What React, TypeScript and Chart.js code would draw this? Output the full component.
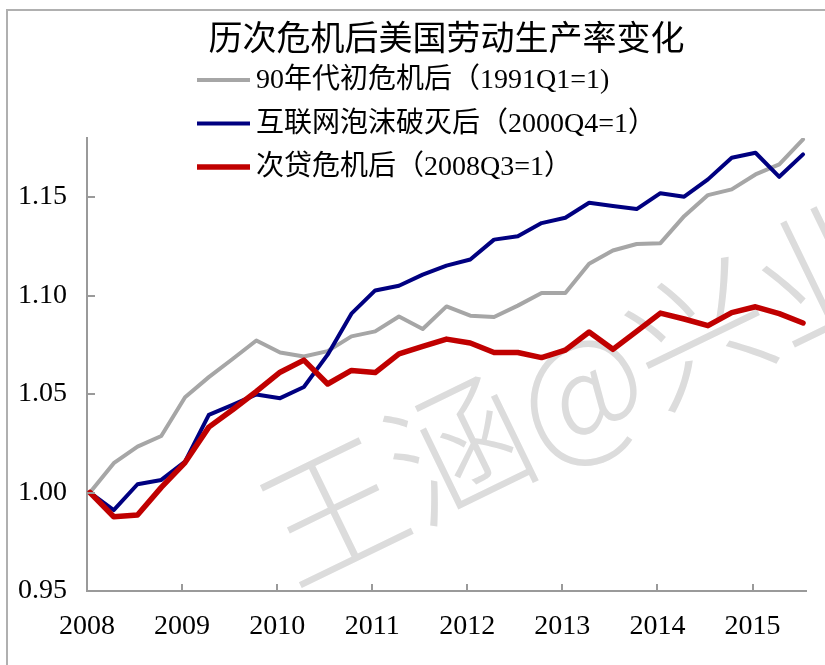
import { useEffect, useRef } from 'react';
import { Chart, registerables } from 'chart.js';

Chart.register(...registerables);

const titleText = '历次危机后美国劳动生产率变化';
const yearLabels = ['2008', '2009', '2010', '2011', '2012', '2013', '2014', '2015'];
const seriesNames = ['90年代初危机后（1991Q1=1)', '互联网泡沫破灭后（2000Q4=1）', '次贷危机后（2008Q3=1）'];
const seriesColors = ['#A6A6A6', '#000080', '#C00000'];
const seriesWidths = [4, 4, 5.5];
const watermarkText = '王涵@兴业宏观';

const series1991 = [
  1.0, 1.0149, 1.0233, 1.0287, 1.0484, 1.0586, 1.0678, 1.0772, 1.0711, 1.0691,
  1.0718, 1.0793, 1.0818, 1.0894, 1.083, 1.0945, 1.0898, 1.0891, 1.0949, 1.1013,
  1.1013, 1.1162, 1.1229, 1.1262, 1.1266, 1.1403, 1.151, 1.1539, 1.1615, 1.1666,
  1.1793,
];
const series2000 = [
  1.0, 0.9911, 1.0042, 1.0064, 1.0157, 1.0394, 1.0445, 1.0498, 1.0479, 1.0536,
  1.07, 1.0908, 1.1026, 1.105, 1.1106, 1.1152, 1.1183, 1.1284, 1.1301, 1.1368,
  1.1395, 1.1471, 1.1455, 1.1439, 1.152, 1.1502, 1.159, 1.17, 1.1725, 1.1603,
  1.1717,
];
const series2008 = [
  1.0, 0.9877, 0.9886, 1.0026, 1.0152, 1.0332, 1.042, 1.0513, 1.0611, 1.0672,
  1.0551, 1.062, 1.0609, 1.0704, 1.0742, 1.0779, 1.0759, 1.0711, 1.0711, 1.0685,
  1.0723, 1.0815, 1.0727, 1.0818, 1.0911, 1.0881, 1.0847, 1.0913, 1.0943, 1.0908,
  1.0861,
];
const allSeries = [series1991, series2000, series2008];

const Y_MIN = 0.95;
const Y_MAX = 1.18;
const Y_STEP = 0.05;

const SERIF = '"Liberation Serif", "Times New Roman", "Noto Sans CJK SC", serif';
const AXIS_COLOR = '#9A9A9A';

const decorPlugin = {
  id: 'decor',
  beforeDatasetsDraw(chart: any) {
    const ctx = chart.ctx;
    ctx.save();
    ctx.translate(293, 588);
    ctx.rotate((-25.9 * Math.PI) / 180);
    ctx.fillStyle = '#DCDCDC';
    ctx.font = '300 140px "Noto Sans CJK SC", sans-serif';
    ctx.textBaseline = 'alphabetic';
    ctx.textAlign = 'left';
    ctx.fillText(watermarkText, 0, 0);
    ctx.restore();
  },
  afterDraw(chart: any) {
    const ctx = chart.ctx;
    const xs = chart.scales.x;
    const ys = chart.scales.y;
    const area = chart.chartArea;
    ctx.save();
    // inward tick marks
    ctx.strokeStyle = AXIS_COLOR;
    ctx.lineWidth = 2;
    ctx.beginPath();
    ys.ticks.forEach((t: any) => {
      const y = Math.round(ys.getPixelForValue(t.value));
      ctx.moveTo(area.left, y);
      ctx.lineTo(area.left + 8, y);
    });
    xs.ticks.forEach((t: any) => {
      const x = Math.round(xs.getPixelForValue(t.value));
      ctx.moveTo(x, area.bottom);
      ctx.lineTo(x, area.bottom - 7);
    });
    ctx.stroke();

    // legend
    ctx.font = '28px ' + SERIF;
    ctx.textBaseline = 'middle';
    ctx.textAlign = 'left';
    chart.data.datasets.forEach((ds: any, i: number) => {
      const y = 80 + i * 43.5;
      ctx.strokeStyle = ds.borderColor;
      ctx.lineWidth = ds.borderWidth;
      ctx.lineCap = 'butt';
      ctx.beginPath();
      ctx.moveTo(197, y);
      ctx.lineTo(250, y);
      ctx.stroke();
      ctx.fillStyle = '#000';
      ctx.fillText(ds.label, 256, y + 1);
    });

    // outer frame
    ctx.strokeStyle = '#B0B0B0';
    ctx.lineWidth = 2;
    ctx.beginPath();
    ctx.moveTo(7, 665);
    ctx.lineTo(7, 10);
    ctx.lineTo(825, 10);
    ctx.stroke();
    ctx.restore();
  },
};

export default function App() {
  const ref = useRef<HTMLCanvasElement>(null);

  useEffect(() => {
    if (!ref.current) return;
    const datasets = allSeries.map((vals, i) => ({
      label: seriesNames[i],
      data: vals.map((v, k) => ({ x: k, y: v })),
      borderColor: seriesColors[i],
      backgroundColor: seriesColors[i],
      borderWidth: seriesWidths[i],
      pointRadius: 0,
      tension: 0,
      fill: false,
      borderJoinStyle: 'round' as const,
      borderCapStyle: 'round' as const,
      order: 3 - i,
    }));

    const chart = new Chart(ref.current, {
      type: 'line',
      data: { datasets },
      options: {
        animation: false,
        responsive: false,
        devicePixelRatio: 1,
        layout: { padding: { left: 0, right: 19, top: 0, bottom: 0 } },
        plugins: {
          legend: { display: false },
          tooltip: { enabled: false },
          title: {
            display: true,
            text: titleText,
            fullSize: false,
            color: '#000',
            font: { family: '"Noto Sans CJK SC", sans-serif', size: 34, weight: 'normal' },
            padding: { top: 17, bottom: 80.2 },
          },
        },
        scales: {
          x: {
            type: 'linear',
            min: -0.125,
            max: 30.125,
            afterBuildTicks: (s: any) => {
              s.ticks = yearLabels.map((_, k) => ({ value: 4 * k - 0.125 }));
            },
            afterFit: (s: any) => {
              s.height = 74;
            },
            grid: { display: false, drawTicks: false },
            border: { display: true, color: AXIS_COLOR, width: 2 },
            ticks: {
              autoSkip: false,
              maxRotation: 0,
              padding: 19,
              color: '#000',
              font: { family: SERIF, size: 28 },
              callback: (_v: any, i: number) => yearLabels[i],
            },
          },
          y: {
            type: 'linear',
            min: Y_MIN,
            max: Y_MAX,
            afterFit: (s: any) => {
              s.width = 87;
            },
            grid: { display: false, drawTicks: false },
            border: { display: true, color: AXIS_COLOR, width: 2 },
            ticks: {
              stepSize: Y_STEP,
              includeBounds: false,
              padding: 20,
              color: '#000',
              font: { family: SERIF, size: 28 },
              callback: (v: any) => Number(v).toFixed(2),
            },
          },
        },
      },
      plugins: [decorPlugin],
    } as any);
    return () => chart.destroy();
  }, []);

  return (
    <div style={{ position: 'absolute', left: 0, top: 0, width: 825, height: 665, background: '#fff' }}>
      <canvas ref={ref} width={825} height={665} style={{ display: 'block' }} />
    </div>
  );
}
